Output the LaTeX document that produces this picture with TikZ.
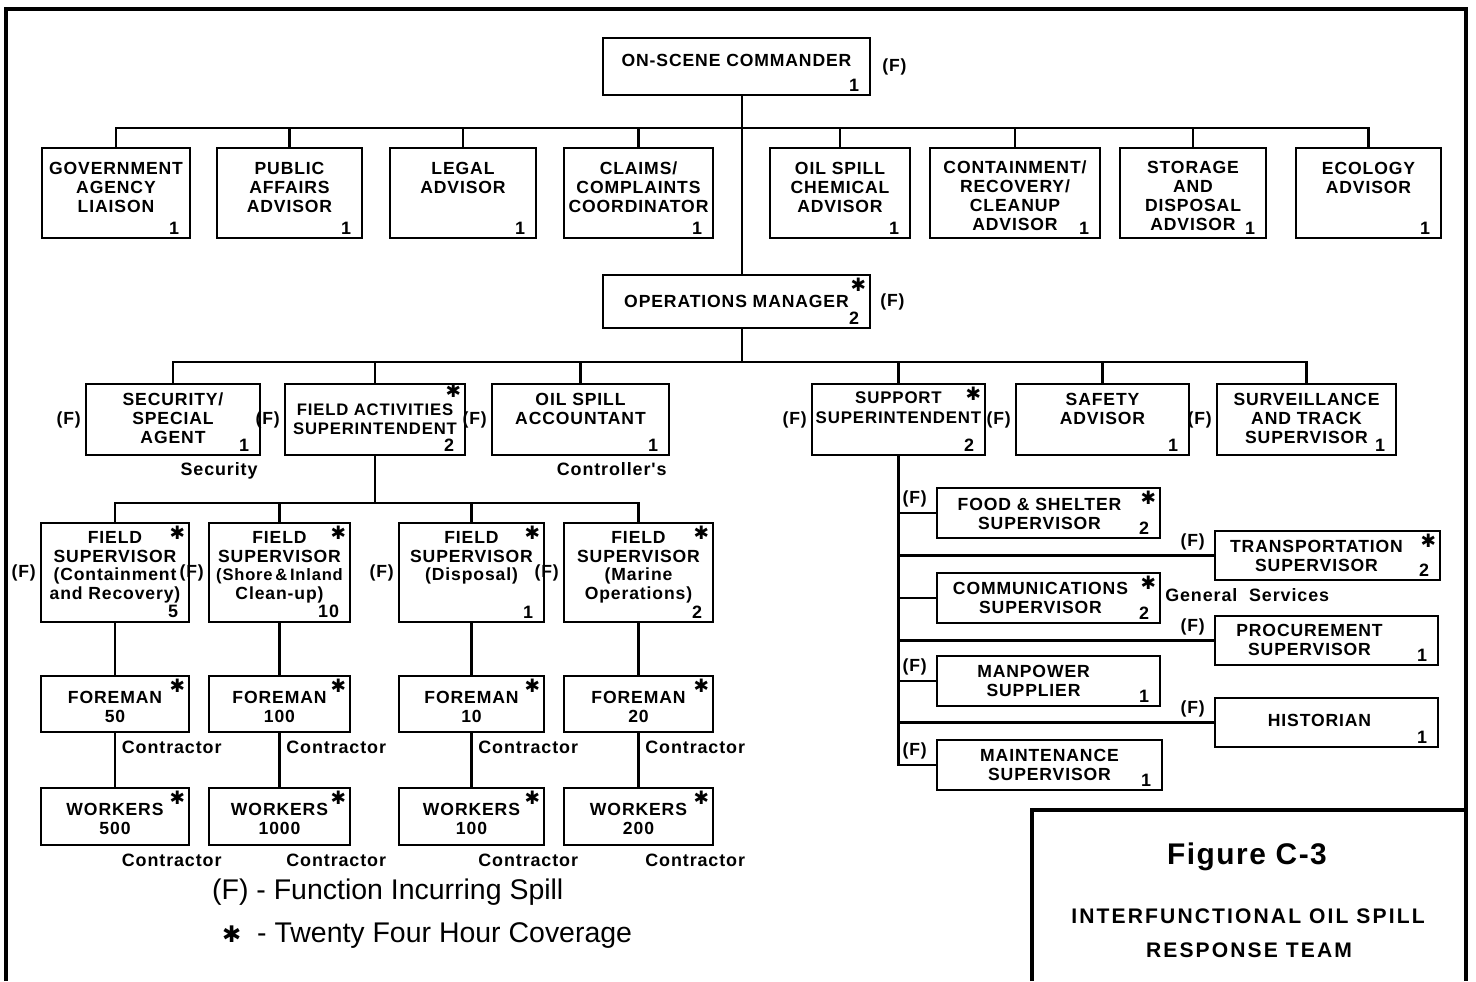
\documentclass[tikz,border=0pt]{standalone}
\usepackage{fontspec}
\setmainfont{Liberation Sans}
\newfontfamily\boxfont{Liberation Sans}[LetterSpace=5]
\newfontfamily\wideboxfont{Liberation Sans}[LetterSpace=10]
\newfontfamily\symbolfont{DejaVu Sans}
\usetikzlibrary{fit,positioning}
\newcommand{\hstar}{{\symbolfont ✱}}

\begin{document}
\begin{tikzpicture}[x=0.02cm, y=-0.02cm,
    box/.style={draw, line width=1.6pt, inner sep=0pt},
    ttl/.style={anchor=north, align=center, inner sep=0pt, yshift=#1,
        font=\boxfont\bfseries\fontsize{10}{10.8}\selectfont},
    ttl/.default=-0.2cm,
    num/.style={anchor=south east, inner sep=0pt, xshift=-0.24cm, yshift=0.1cm,
        font=\boxfont\bfseries\fontsize{10.2}{10}\selectfont},
    star/.style={anchor=north east, inner sep=0pt, xshift=-0.1cm, yshift=-0.08cm,
        font=\symbolfont\fontsize{10.5}{10}\selectfont},
    fl/.style={inner sep=2pt, font=\boxfont\bfseries\fontsize{10}{10}\selectfont},
    fnw/.style={fl, anchor=north east, xshift=-0.1cm},
    lbl/.style={inner sep=2pt, font=\boxfont\bfseries\fontsize{10.2}{10}\selectfont},
    ctr/.style={lbl, anchor=north west, xshift=0.06cm, yshift=-0.08cm},
    link/.style={line width=1.3pt},
    frame/.style={line width=1.8pt}]
    \useasboundingbox (0,0) rectangle (1476,981);

    % frame and title block
    \draw[frame] (6,981) |- (1466,9) -- (1466,981);
    \draw[frame] (1032,981) |- (1466,810);
    \node[font=\boxfont\bfseries\fontsize{17}{20}\selectfont] (figno) at (1247,857) {Figure C-3};
    \node[font=\wideboxfont\bfseries\fontsize{12}{14}\selectfont] (figtitle) at (1248,916) {INTERFUNCTIONAL OIL SPILL};
    \node[font=\wideboxfont\bfseries\fontsize{12}{14}\selectfont] (figteam) at (1249,950) {RESPONSE TEAM};

    % commander and advisors
    \node[box, fit={(603,38) (870,95)},
        label={[ttl=-0.34cm]north:ON-SCENE COMMANDER},
        label={[num]south east:1},
        label={[fl, xshift=0.14cm]east:(F)}] (osc) {};
    \node[box, fit={(42,148) (190,238)},
        label={[ttl=-0.3cm]north:GOVERNMENT\\AGENCY\\LIAISON},
        label={[num]south east:1}] (gov) {};
    \node[box, fit={(217,148) (362,238)},
        label={[ttl=-0.3cm]north:PUBLIC\\AFFAIRS\\ADVISOR},
        label={[num]south east:1}] (pub) {};
    \node[box, fit={(390,148) (536,238)},
        label={[ttl=-0.3cm]north:LEGAL\\ADVISOR},
        label={[num]south east:1}] (leg) {};
    \node[box, fit={(564,148) (713,238)},
        label={[ttl=-0.3cm]north:CLAIMS/\\COMPLAINTS\\COORDINATOR},
        label={[num]south east:1}] (clm) {};
    \node[box, fit={(770,148) (910,238)},
        label={[ttl=-0.3cm]north:OIL SPILL\\CHEMICAL\\ADVISOR},
        label={[num]south east:1}] (chem) {};
    \node[box, fit={(930,148) (1100,238)},
        label={[ttl=-0.28cm]north:CONTAINMENT/\\RECOVERY/\\CLEANUP\\ADVISOR},
        label={[num]south east:1}] (cont) {};
    \node[box, fit={(1120,148) (1266,238)},
        label={[ttl=-0.28cm]north:STORAGE\\AND\\DISPOSAL\\ADVISOR},
        label={[num]south east:1}] (stor) {};
    \node[box, fit={(1296,148) (1441,238)},
        label={[ttl=-0.3cm]north:ECOLOGY\\ADVISOR},
        label={[num]south east:1}] (eco) {};

    % operations
    \node[box, fit={(603,275) (870,328)},
        label={[ttl=-0.42cm]north:OPERATIONS MANAGER},
        label={[star]north east:\hstar},
        label={[num]south east:2},
        label={[fl, xshift=0.1cm]east:(F)}] (ops) {};
    \node[box, fit={(86,384) (260,455)},
        label={[ttl=-0.2cm]north:SECURITY/\\SPECIAL\\AGENT},
        label={[num]south east:1},
        label={[fl]west:(F)},
        label={[lbl, anchor=north east, yshift=-0.05cm]south east:Security}] (sec) {};
    \node[box, fit={(285,384) (465,455)},
        label={[ttl=-0.42cm, font=\boxfont\bfseries\fontsize{9.5}{10.8}\selectfont]north:FIELD ACTIVITIES\\SUPERINTENDENT},
        label={[star, yshift=0.06cm]north east:\hstar},
        label={[num]south east:2},
        label={[fl]west:(F)}] (fas) {};
    \node[box, fit={(492,384) (669,455)},
        label={[ttl=-0.2cm]north:OIL SPILL\\ACCOUNTANT},
        label={[num]south east:1},
        label={[fl]west:(F)},
        label={[lbl, anchor=north east, yshift=-0.05cm]south east:Controller's}] (acc) {};
    \node[box, fit={(812,384) (985,455)},
        label={[ttl=-0.18cm, font=\boxfont\bfseries\fontsize{9.6}{11.5}\selectfont]north:SUPPORT\\SUPERINTENDENT},
        label={[star]north east:\hstar},
        label={[num]south east:2},
        label={[fl]west:(F)}] (sup) {};
    \node[box, fit={(1016,384) (1189,455)},
        label={[ttl=-0.2cm]north:SAFETY\\ADVISOR},
        label={[num]south east:1},
        label={[fl]west:(F)}] (saf) {};
    \node[box, fit={(1217,384) (1396,455)},
        label={[ttl=-0.2cm]north:SURVEILLANCE\\AND TRACK\\SUPERVISOR},
        label={[num]south east:1},
        label={[fl]west:(F)}] (surv) {};

    % field supervisors, foremen, workers
    \node[box, fit={(41,523) (189,622)},
        label={[ttl=-0.18cm]north:FIELD\\SUPERVISOR\\(Containment\\and Recovery)},
        label={[star]north east:\hstar},
        label={[num]south east:5},
        label={[fl]west:(F)}] (fs1) {};
    \node[box, fit={(209,523) (350,622)},
        label={[ttl=-0.18cm]north:FIELD\\SUPERVISOR\\{\fontsize{9.4}{10.8}\selectfont(Shore\,\&\,Inland}\\Clean-up)},
        label={[star]north east:\hstar},
        label={[num]south east:10},
        label={[fl]west:(F)}] (fs2) {};
    \node[box, fit={(399,523) (544,622)},
        label={[ttl=-0.18cm]north:FIELD\\SUPERVISOR\\(Disposal)},
        label={[star]north east:\hstar},
        label={[num]south east:1},
        label={[fl]west:(F)}] (fs3) {};
    \node[box, fit={(564,523) (713,622)},
        label={[ttl=-0.18cm]north:FIELD\\SUPERVISOR\\(Marine\\Operations)},
        label={[star]north east:\hstar},
        label={[num]south east:2},
        label={[fl]west:(F)}] (fs4) {};

    \node[box, fit={(41,676) (189,732)},
        label={[ttl=-0.32cm]north:FOREMAN\\50},
        label={[star]north east:\hstar},
        label={[ctr]south:Contractor}] (fm1) {};
    \node[box, fit={(209,676) (350,732)},
        label={[ttl=-0.32cm]north:FOREMAN\\100},
        label={[star]north east:\hstar},
        label={[ctr]south:Contractor}] (fm2) {};
    \node[box, fit={(399,676) (544,732)},
        label={[ttl=-0.32cm]north:FOREMAN\\10},
        label={[star]north east:\hstar},
        label={[ctr]south:Contractor}] (fm3) {};
    \node[box, fit={(564,676) (713,732)},
        label={[ttl=-0.32cm]north:FOREMAN\\20},
        label={[star]north east:\hstar},
        label={[ctr]south:Contractor}] (fm4) {};

    \node[box, fit={(41,788) (189,845)},
        label={[ttl=-0.32cm]north:WORKERS\\500},
        label={[star]north east:\hstar},
        label={[ctr]south:Contractor}] (wk1) {};
    \node[box, fit={(209,788) (350,845)},
        label={[ttl=-0.32cm]north:WORKERS\\1000},
        label={[star]north east:\hstar},
        label={[ctr]south:Contractor}] (wk2) {};
    \node[box, fit={(399,788) (544,845)},
        label={[ttl=-0.32cm]north:WORKERS\\100},
        label={[star]north east:\hstar},
        label={[ctr]south:Contractor}] (wk3) {};
    \node[box, fit={(564,788) (713,845)},
        label={[ttl=-0.32cm]north:WORKERS\\200},
        label={[star]north east:\hstar},
        label={[ctr]south:Contractor}] (wk4) {};

    % support staff
    \node[box, fit={(937,488) (1160,538)},
        label={[ttl=-0.22cm, xshift=-0.18cm]north:FOOD \& SHELTER\\SUPERVISOR},
        label={[star]north east:\hstar},
        label={[num]south east:2},
        label={[fnw]north west:(F)}] (food) {};
    \node[box, fit={(1215,531) (1440,580)},
        label={[ttl=-0.2cm, xshift=-0.22cm]north:TRANSPORTATION\\SUPERVISOR},
        label={[star]north east:\hstar},
        label={[num]south east:2},
        label={[fnw]north west:(F)}] (trans) {};
    \node[box, fit={(937,573) (1160,623)},
        label={[ttl=-0.2cm, xshift=-0.16cm]north:COMMUNICATIONS\\SUPERVISOR},
        label={[star]north east:\hstar},
        label={[num]south east:2},
        label={[lbl, anchor=west, yshift=0.06cm]east:General\ \ Services}] (comm) {};
    \node[box, fit={(1215,616) (1438,665)},
        label={[ttl=-0.18cm, xshift=-0.34cm]north:PROCUREMENT\\SUPERVISOR},
        label={[num]south east:1},
        label={[fnw]north west:(F)}] (proc) {};
    \node[box, fit={(937,656) (1160,706)},
        label={[ttl=-0.2cm, xshift=-0.3cm]north:MANPOWER\\SUPPLIER},
        label={[num]south east:1},
        label={[fnw]north west:(F)}] (man) {};
    \node[box, fit={(1215,698) (1438,747)},
        label={[ttl=-0.34cm, xshift=-0.14cm]north:HISTORIAN},
        label={[num]south east:1},
        label={[fnw]north west:(F)}] (hist) {};
    \node[box, fit={(937,740) (1162,790)},
        label={[ttl=-0.2cm]north:MAINTENANCE\\SUPERVISOR},
        label={[num]south east:1},
        label={[fnw]north west:(F)}] (mnt) {};

    % connectors
    \coordinate (bar1) at (742,128);
    \coordinate (bar2) at (742,362);
    \coordinate (bar3) at (375,503);
    \draw[link] (osc.south -| bar1) -- (ops.north -| bar1);
    \draw[link] (gov.north) |- (bar1) -| (eco.north);
    \foreach \n in {pub,leg,clm,chem,cont,stor}
        \draw[link] (\n.north) -- (\n.north |- bar1);
    \draw[link] (ops.south -| bar2) -- (bar2);
    \draw[link] (sec.north) |- (bar2) -| (surv.north);
    \foreach \n in {fas,acc,sup,saf}
        \draw[link] (\n.north) -- (\n.north |- bar2);
    \draw[link] (fas.south) -- (fas.south |- bar3);
    \draw[link] (fs1.north) |- (bar3) -| (fs4.north);
    \foreach \n in {fs2,fs3}
        \draw[link] (\n.north) -- (\n.north |- bar3);
    \foreach \i in {1,...,4} {
        \draw[link] (fs\i.south) -- (fm\i.north);
        \draw[link] (fm\i.south) -- (wk\i.north);
    }
    \draw[link] (sup.south) |- (mnt.west);
    \foreach \n in {food,trans,comm,proc,man,hist}
        \draw[link] (\n.west) -- (\n.west -| sup.south);

    % legend
    \node[anchor=west, font=\fontsize{16.2}{18}\selectfont] (legf) at (206,892) {(F) - Function Incurring Spill};
    \node[anchor=west, font=\fontsize{16.2}{18}\selectfont] (legs) at (216,935) {{\fontsize{13}{12}\selectfont\hstar}\ \ - Twenty Four Hour Coverage};
\end{tikzpicture}
\end{document}
